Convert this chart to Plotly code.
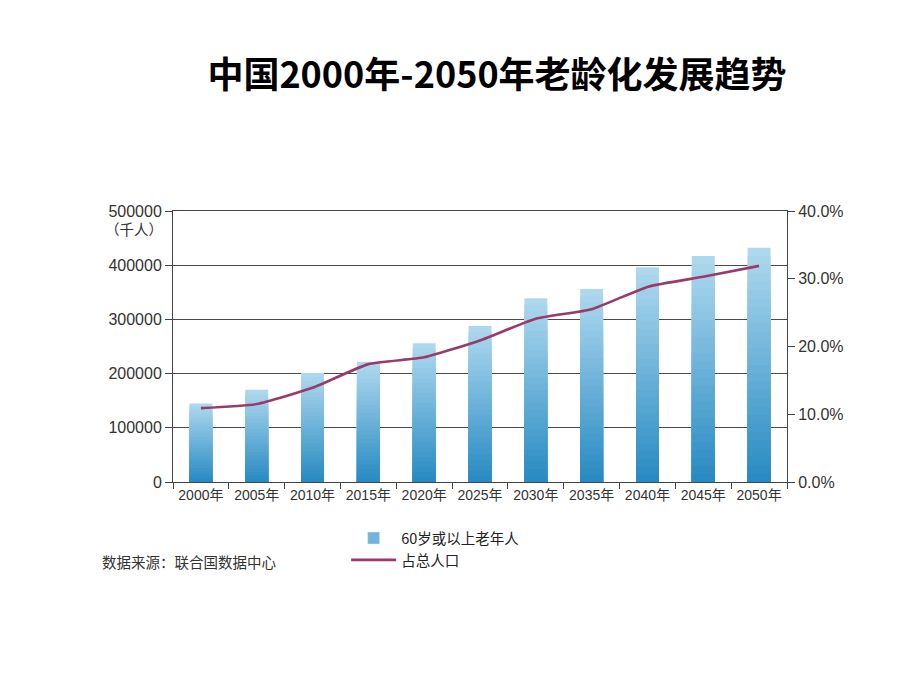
import plotly.graph_objects as go

years = ["2000年", "2005年", "2010年", "2015年", "2020年", "2025年",
         "2030年", "2035年", "2040年", "2045年", "2050年"]
elderly = [145000, 170000, 201000, 222000, 256000, 288000,
           339000, 356000, 396000, 417000, 432000]
share = [0.109, 0.115, 0.139, 0.174, 0.184, 0.209,
         0.241, 0.255, 0.288, 0.303, 0.319]

FONT = "Liberation Sans, Noto Sans CJK SC"
CJK = "Noto Sans CJK SC"
TOP_C = (174, 216, 238)
BOT_C = (36, 136, 193)
N = 28


def mix(t):
    r = [round(TOP_C[i] + (BOT_C[i] - TOP_C[i]) * t) for i in range(3)]
    return f"rgb({r[0]},{r[1]},{r[2]})"


fig = go.Figure()
# gradient bars: overlay layers from full height (lightest) down to darkest
for k in range(N, 0, -1):
    frac = k / N
    fig.add_trace(go.Bar(
        x=years, y=[v * frac for v in elderly],
        name="60岁或以上老年人",
        marker=dict(color=mix(1 - frac), line=dict(width=0)),
        width=0.41,
        showlegend=False,
        hoverinfo="skip",
        yaxis="y",
    ))
# legend entry for the bars
fig.add_trace(go.Bar(x=[None], y=[None], name="60岁或以上老年人",
                     marker=dict(color=mix(0.45)), legendrank=1))

fig.add_trace(go.Scatter(
    x=years, y=share, name="占总人口", mode="lines",
    line=dict(color="#983a6a", width=2.6, shape="spline", smoothing=0.5),
    yaxis="y2", legendrank=2,
))

fig.update_layout(
    width=912, height=682,
    paper_bgcolor="white", plot_bgcolor="white",
    margin=dict(l=165, r=133, t=203, b=208),
    barmode="overlay",
    font=dict(family=FONT, size=14, color="#333333"),
    title=dict(text="<b>中国2000年-2050年老龄化发展趋势</b>",
               x=(497 - 8) / 912, xanchor="center",
               y=1 - (75 - 8) / 682, yanchor="middle",
               font=dict(family=CJK, size=36, color="#000000")),
    xaxis=dict(type="category", showgrid=False, showline=True,
               mirror=True,
               linecolor="#444444", linewidth=1,
               ticks="outside", tickson="boundaries", ticklen=6,
               tickcolor="#444444",
               tickfont=dict(size=14, color="#333333")),
    yaxis=dict(range=[0, 500000], dtick=100000, tickformat="d",
               showgrid=True, gridcolor="#4a4a4a", gridwidth=1,
               showline=True, linecolor="#444444", linewidth=1,
               ticks="outside", ticklen=7, tickcolor="#444444",
               zeroline=False,
               tickfont=dict(size=16, color="#333333")),
    yaxis2=dict(range=[0, 0.4], dtick=0.1, tickformat=".1%",
                overlaying="y", side="right", showgrid=False,
                showline=True, linecolor="#444444", linewidth=1,
                ticks="outside", ticklen=7, tickcolor="#444444",
                zeroline=False,
                tickfont=dict(size=16, color="#333333")),
    legend=dict(x=0.282, y=-0.148, xanchor="left", yanchor="top",
                orientation="v", traceorder="normal",
                font=dict(family=CJK, size=14.5, color="#222222"),
                itemwidth=45, tracegroupgap=2, bgcolor="rgba(0,0,0,0)"),
    annotations=[
        dict(text="（千人）", xref="paper", yref="paper",
             x=(103 - 173) / 614, y=(482 - 228) / 271,
             xanchor="left", yanchor="middle",
             showarrow=False, font=dict(family=CJK, size=14.5, color="#333333")),
        dict(text="数据来源：联合国数据中心", xref="paper", yref="paper",
             x=(100 - 173) / 614, y=(482 - 561) / 271,
             xanchor="left", yanchor="middle",
             showarrow=False, font=dict(family=CJK, size=14.5, color="#333333")),
    ],
)

fig.write_html("out.html")
